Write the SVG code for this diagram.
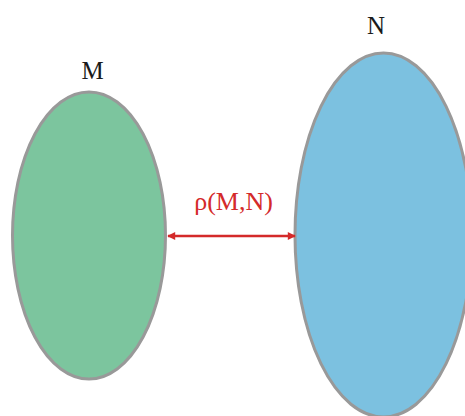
<svg xmlns="http://www.w3.org/2000/svg" width="465" height="416" viewBox="0 0 465 416">
<style>
.shape{stroke:#999999;stroke-width:3}
.lbl{font-family:"Liberation Serif","DejaVu Serif",serif;font-size:25px;fill:#1a1a1a;text-anchor:middle}
.red{fill:#d42a2a;font-size:26px}
</style>
<defs>
<marker id="ah" viewBox="0 0 10 10" refX="9" refY="5" markerWidth="10" markerHeight="8" markerUnits="userSpaceOnUse" orient="auto-start-reverse">
<path d="M0,0 L10,5 L0,10 Z" fill="#d42a2a"/>
</marker>
</defs>
<rect width="465" height="416" fill="#ffffff"/>
<g id="M">
<ellipse class="shape" cx="89" cy="235.5" rx="76.5" ry="143.5" fill="#7cc59e"/>
<text class="lbl" x="92.5" y="79">M</text>
</g>
<g id="N">
<ellipse class="shape" cx="383.5" cy="235" rx="88.5" ry="182" fill="#7cc1e0"/>
<text class="lbl" x="376" y="34">N</text>
</g>
<g id="connectors">
<line x1="168" y1="236" x2="295" y2="236" stroke="#d42a2a" stroke-width="2.5" marker-start="url(#ah)" marker-end="url(#ah)"/>
<text class="lbl red" x="233.5" y="210">ρ(M,N)</text>
</g>
</svg>
